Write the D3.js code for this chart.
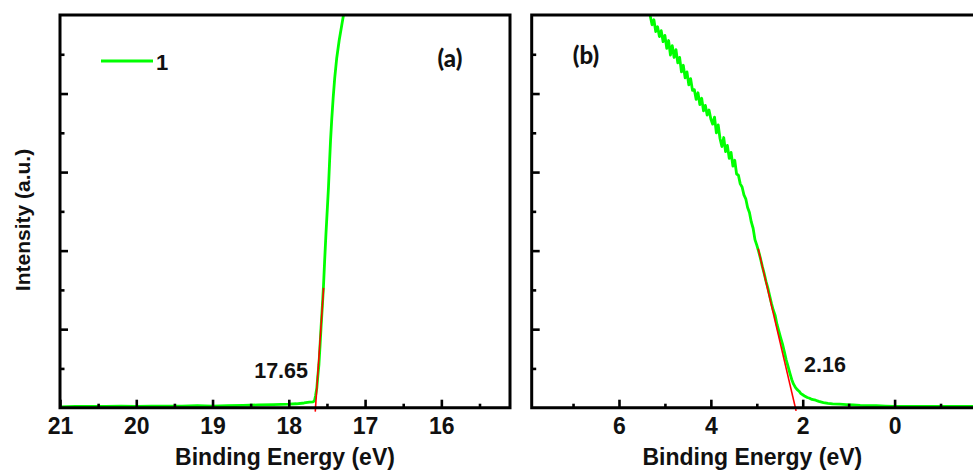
<!DOCTYPE html>
<html>
<head>
<meta charset="utf-8">
<script src="https://cdn.jsdelivr.net/npm/d3@7/dist/d3.min.js"></script>
<style>
  html, body { margin: 0; padding: 0; background: #fff; overflow: hidden; }
  svg { display: block; }
  .ax { font-family: "Liberation Sans", Arial, sans-serif; font-weight: bold; fill: #111; }
  .tag { font-family: Lato, "Open Sans", sans-serif; font-weight: 900; fill: #111; }
</style>
</head>
<body>
<svg id="chart" width="973" height="473"></svg>
<script>
// Panel (a): secondary-electron cutoff region
const cutoffEnergy = [21.0, 20.8, 20.6, 20.4, 20.2, 20.0, 19.8, 19.6, 19.4, 19.2, 19.0, 18.8, 18.6, 18.4, 18.2, 18.0, 17.9, 17.8, 17.73, 17.68, 17.663, 17.65, 17.633, 17.62, 17.605, 17.59, 17.577, 17.56, 17.546, 17.53, 17.513, 17.497, 17.48, 17.467, 17.453, 17.437, 17.418, 17.398, 17.372, 17.34, 17.305, 17.283, 17.27];
const cutoffIntensity = [0.02, 0.03, 0.03, 0.03, 0.04, 0.03, 0.04, 0.04, 0.04, 0.05, 0.04, 0.05, 0.06, 0.07, 0.08, 0.09, 0.10, 0.12, 0.14, 0.15, 0.18, 0.30, 0.5, 0.8, 1.1, 1.6, 2.06, 2.6, 3.07, 3.75, 4.43, 5.0, 5.61, 6.2, 6.8, 7.35, 7.9, 8.4, 8.9, 9.35, 9.75, 10.0, 10.15];

// Panel (b): valence-band edge region
const valenceEnergy = [5.32, 5.28, 5.24, 5.20, 5.16, 5.12, 5.08, 5.04, 5.00, 4.96, 4.92, 4.88, 4.84, 4.80, 4.76, 4.72, 4.68, 4.64, 4.60, 4.56, 4.52, 4.48, 4.44, 4.40, 4.36, 4.32, 4.28, 4.24, 4.20, 4.16, 4.12, 4.08, 4.04, 4.00, 3.96, 3.92, 3.88, 3.84, 3.80, 3.76, 3.72, 3.68, 3.64, 3.60, 3.56, 3.52, 3.48, 3.44, 3.40, 3.36, 3.32, 3.28, 3.24, 3.20, 3.16, 3.12, 3.08, 3.04, 3.00, 2.96, 2.92, 2.88, 2.84, 2.80, 2.76, 2.72, 2.68, 2.64, 2.60, 2.56, 2.52, 2.48, 2.44, 2.40, 2.36, 2.32, 2.28, 2.24, 2.20, 2.16, 2.12, 2.08, 2.04, 2.00, 1.95, 1.90, 1.85, 1.80, 1.72, 1.65, 1.55, 1.45, 1.35, 1.20, 1.05, 0.90, 0.75, 0.60, 0.40, 0.20, 0.00, -0.30, -0.60, -1.00, -1.40, -1.75];
const valenceIntensity = [9.98, 9.75, 9.88, 9.58, 9.70, 9.45, 9.60, 9.32, 9.48, 9.15, 9.35, 8.98, 9.22, 8.92, 9.12, 8.78, 8.92, 8.55, 8.72, 8.40, 8.55, 8.22, 8.38, 8.08, 8.10, 7.85, 8.02, 7.72, 7.88, 7.56, 7.70, 7.45, 7.58, 7.35, 7.22, 7.40, 7.00, 7.20, 6.85, 6.65, 6.88, 6.52, 6.68, 6.35, 6.50, 6.15, 6.30, 5.95, 5.92, 5.70, 5.62, 5.42, 5.32, 5.10, 4.97, 4.73, 4.57, 4.28, 4.14, 3.98, 3.80, 3.60, 3.42, 3.22, 3.05, 2.85, 2.65, 2.48, 2.35, 2.12, 1.95, 1.78, 1.62, 1.42, 1.22, 1.05, 0.88, 0.72, 0.60, 0.52, 0.46, 0.42, 0.36, 0.33, 0.29, 0.26, 0.24, 0.21, 0.19, 0.16, 0.13, 0.11, 0.10, 0.09, 0.08, 0.07, 0.06, 0.055, 0.05, 0.04, 0.035, 0.03, 0.03, 0.03, 0.03, 0.03];

// Linear extrapolation lines (energy, intensity) and the intercepts they mark
const cutoffEdge = 17.65;
const valenceEdge = 2.16;
const cutoffFitEnergy = [17.6535, 17.5439];
const cutoffFitIntensity = [-0.1, 3.05];
const valenceFitEnergy = [2.144, 2.97];
const valenceFitIntensity = [-0.08, 4.05];

// Axis ticks
const aMajorTicks = [21, 20, 19, 18, 17, 16];
const aMinorTicks = [20.5, 19.5, 18.5, 17.5, 16.5, 15.5];
const bMajorTicks = [6, 4, 2, 0];
const bMinorTicks = [7, 5, 3, 1, -1];
const yMajorTicks = [2, 4, 6, 8];
const yMinorTicks = [1, 3, 5, 7, 9];

const seriesName = "1";
const xTitle = "Binding Energy (eV)";
const yTitle = "Intensity (a.u.)";

const svg = d3.select("#chart");
const plotTop = 15, plotBottom = 407.7;
const y = d3.scaleLinear().domain([0, 10]).range([plotBottom, plotTop]);

const panels = [
  { id: "a", x: d3.scaleLinear().domain([21, 15.1]).range([60, 510]),
    energy: cutoffEnergy, intensity: cutoffIntensity,
    fitE: cutoffFitEnergy, fitI: cutoffFitIntensity,
    major: aMajorTicks, minor: aMinorTicks, rightBorder: true,
    tag: "(a)", tagX: 450, tagY: 67,
    edge: cutoffEdge, edgeX: 308, edgeY: 378, edgeAnchor: "end" },
  { id: "b", x: d3.scaleLinear().domain([7.9, -1.75]).range([531.7, 975]),
    energy: valenceEnergy, intensity: valenceIntensity,
    fitE: valenceFitEnergy, fitI: valenceFitIntensity,
    major: bMajorTicks, minor: bMinorTicks, rightBorder: false,
    tag: "(b)", tagX: 586, tagY: 64,
    edge: valenceEdge, edgeX: 804, edgeY: 372, edgeAnchor: "start" }
];

panels.forEach(p => {
  const [x0, x1] = p.x.range();
  const g = svg.append("g");

  g.append("clipPath").attr("id", "clip-" + p.id)
    .append("rect").attr("x", x0).attr("y", plotTop).attr("width", x1 - x0).attr("height", plotBottom - plotTop + 6);

  const plot = g.append("g").attr("clip-path", `url(#clip-${p.id})`);

  const line = d3.line().x(d => p.x(d[0])).y(d => y(d[1]));
  const pts = p.energy.map((e, i) => [e, p.intensity[i]]);
  plot.append("path").attr("d", line(pts))
    .attr("fill", "none").attr("stroke", "#00ff00").attr("stroke-width", 2.8)
    .attr("stroke-linejoin", "round");

  const fit = p.fitE.map((e, i) => [e, p.fitI[i]]);
  g.append("path").attr("d", line(fit))
    .attr("fill", "none").attr("stroke", "#ff0000").attr("stroke-width", 1.6);

  // bottom axis: major ticks labelled, minor ticks short, both pointing inward
  const xAxis = d3.axisBottom(p.x).tickValues(p.major).tickSize(-8).tickPadding(14)
    .tickFormat(d3.format("d"));
  const ax = g.append("g").attr("transform", `translate(0,${plotBottom})`).call(xAxis);
  ax.select(".domain").remove();
  ax.selectAll(".tick line").attr("stroke", "#000").attr("stroke-width", 2.6);
  ax.selectAll(".tick text").attr("class", "ax").attr("font-size", 23).attr("dy", "0.71em").attr("y", 10);

  const axMinor = d3.axisBottom(p.x).tickValues(p.minor).tickSize(-4).tickFormat("");
  const am = g.append("g").attr("transform", `translate(0,${plotBottom})`).call(axMinor);
  am.select(".domain").remove();
  am.selectAll(".tick line").attr("stroke", "#000").attr("stroke-width", 2.6);

  // left axis ticks, no labels
  const yAxis = d3.axisLeft(y).tickValues(yMajorTicks).tickSize(-8).tickFormat("");
  const ay = g.append("g").attr("transform", `translate(${x0},0)`).call(yAxis);
  ay.select(".domain").remove();
  ay.selectAll(".tick line").attr("stroke", "#000").attr("stroke-width", 2.6);
  const yMinor = d3.axisLeft(y).tickValues(yMinorTicks).tickSize(-4.5).tickFormat("");
  const aym = g.append("g").attr("transform", `translate(${x0},0)`).call(yMinor);
  aym.select(".domain").remove();
  aym.selectAll(".tick line").attr("stroke", "#000").attr("stroke-width", 2.6);

  // frame
  const frame = d3.path();
  frame.moveTo(x1, plotTop); frame.lineTo(x0, plotTop); frame.lineTo(x0, plotBottom); frame.lineTo(x1, plotBottom);
  if (p.rightBorder) frame.lineTo(x1, plotTop);
  g.append("path").attr("d", frame.toString()).attr("fill", "none")
    .attr("stroke", "#000").attr("stroke-width", 3).attr("stroke-linejoin", "miter")
    .attr("stroke-linecap", "square");

  g.append("text").attr("class", "ax").attr("font-size", 23)
    .attr("x", (x0 + Math.min(x1, 973)) / 2).attr("y", 465).attr("text-anchor", "middle")
    .text(xTitle);

  g.append("text").attr("class", "tag").attr("font-size", 24)
    .attr("x", p.tagX).attr("y", p.tagY).attr("text-anchor", "middle").text(p.tag);

  g.append("text").attr("class", "ax").attr("font-size", 21.5)
    .attr("x", p.edgeX).attr("y", p.edgeY).attr("text-anchor", p.edgeAnchor)
    .text(d3.format(".2f")(p.edge));
});

// legend in panel (a)
svg.append("line").attr("x1", 101).attr("x2", 153).attr("y1", 61).attr("y2", 61)
  .attr("stroke", "#00ff00").attr("stroke-width", 3);
svg.append("text").attr("class", "ax").attr("font-size", 22).attr("x", 156).attr("y", 70).text(seriesName);

// shared y title
svg.append("text").attr("class", "ax").attr("font-size", 21)
  .attr("transform", "translate(30,220) rotate(-90)").attr("text-anchor", "middle").text(yTitle);
</script>
</body>
</html>
